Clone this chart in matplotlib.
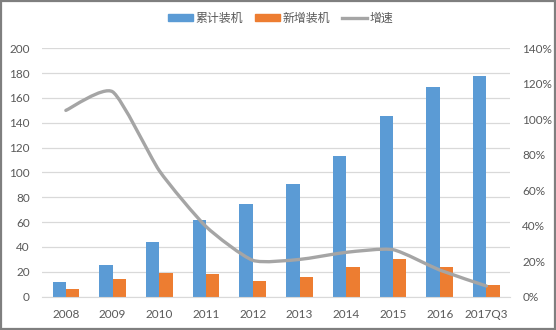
import matplotlib
matplotlib.use("Agg")
import matplotlib.pyplot as plt
from matplotlib.path import Path
from matplotlib.patches import PathPatch, Rectangle
from matplotlib.lines import Line2D
from matplotlib.ticker import FuncFormatter, MultipleLocator
import numpy as np

plt.rcParams['font.family'] = ['Lato', 'Noto Sans CJK SC', 'DejaVu Sans']

categories = ['2008', '2009', '2010', '2011', '2012', '2013', '2014', '2015', '2016', '2017Q3']
cumulative = [12, 25.5, 44, 61.5, 75, 91, 113.5, 145.5, 168.5, 178]
new_added = [6, 14, 19, 18, 13, 16, 23.5, 30, 23.5, 9.5]
growth = [105, 115.5, 71, 39.5, 20.5, 21, 25, 26.5, 15, 6]

series_names = ['累计装机', '新增装机', '增速']
blue = '#5B9BD5'
orange = '#ED7D31'
gray = '#A5A5A5'
text_color = '#595959'

fig = plt.figure(figsize=(5.56, 3.30), dpi=100)
ax = fig.add_axes([0.0764, 0.101, 0.9170 - 0.0764, 0.8536 - 0.101])
ax2 = ax.twinx()

x = np.arange(len(categories))
w = 0.285
ax.bar(x - w / 2, cumulative, w, color=blue, zorder=2)
ax.bar(x + w / 2, new_added, w, color=orange, zorder=2)

ax.set_xlim(-0.5, len(categories) - 0.5)
ax.set_ylim(0, 200)
ax.yaxis.set_major_locator(MultipleLocator(20))
ax.grid(axis='y', color='#D9D9D9', linewidth=0.9, zorder=0)
ax.set_axisbelow(True)
ax.set_xticks(x)
ax.set_xticklabels(categories)

ax2.set_ylim(0, 140)
ax2.yaxis.set_major_locator(MultipleLocator(20))
ax2.yaxis.set_major_formatter(FuncFormatter(lambda v, p: f'{v:.0f}%'))

for a in (ax, ax2):
    for s in a.spines.values():
        s.set_visible(False)
    a.tick_params(length=0, labelsize=8.5, labelcolor=text_color)
ax.spines['bottom'].set_visible(True)
ax.spines['bottom'].set_color('#D9D9D9')
ax.tick_params(axis='x', pad=9)
ax.tick_params(axis='y', pad=9)
ax2.tick_params(axis='y', pad=9)

# smoothed growth line: Bezier segments through the data points
px = np.asarray(x, dtype=float)
py = np.asarray(growth, dtype=float)
verts = [(px[0], py[0])]
codes = [Path.MOVETO]
n = len(px)
t = 0.1
for i in range(n - 1):
    p0 = (px[i - 1], py[i - 1]) if i > 0 else (px[i], py[i])
    p1 = (px[i], py[i])
    p2 = (px[i + 1], py[i + 1])
    p3 = (px[i + 2], py[i + 2]) if i + 2 < n else p2
    c1 = (p1[0] + (p2[0] - p0[0]) * t, p1[1] + (p2[1] - p0[1]) * t)
    c2 = (p2[0] - (p3[0] - p1[0]) * t, p2[1] - (p3[1] - p1[1]) * t)
    verts += [c1, c2, p2]
    codes += [Path.CURVE4] * 3
ax2.add_patch(PathPatch(Path(verts, codes), facecolor='none', edgecolor=gray,
                        linewidth=2.4, capstyle='round', joinstyle='round', zorder=3))

handles = [Rectangle((0, 0), 1, 1, color=blue),
           Rectangle((0, 0), 1, 1, color=orange),
           Line2D([0], [0], color=gray, linewidth=2.4)]
fig.legend(handles, series_names, loc='center', bbox_to_anchor=(0.505, 0.945), ncol=3,
           frameon=False, handlelength=2.1, handleheight=0.45,
           columnspacing=1.0, handletextpad=0.2,
           prop={'family': ['Noto Sans CJK SC', 'DejaVu Sans'], 'size': 8.6},
           labelcolor=text_color)

fig.patches.append(Rectangle((0.002, 0.003), 0.996, 0.994, transform=fig.transFigure,
                             fill=False, edgecolor='#7F7F7F', linewidth=1.6))

fig.savefig('out.png', dpi=100)
